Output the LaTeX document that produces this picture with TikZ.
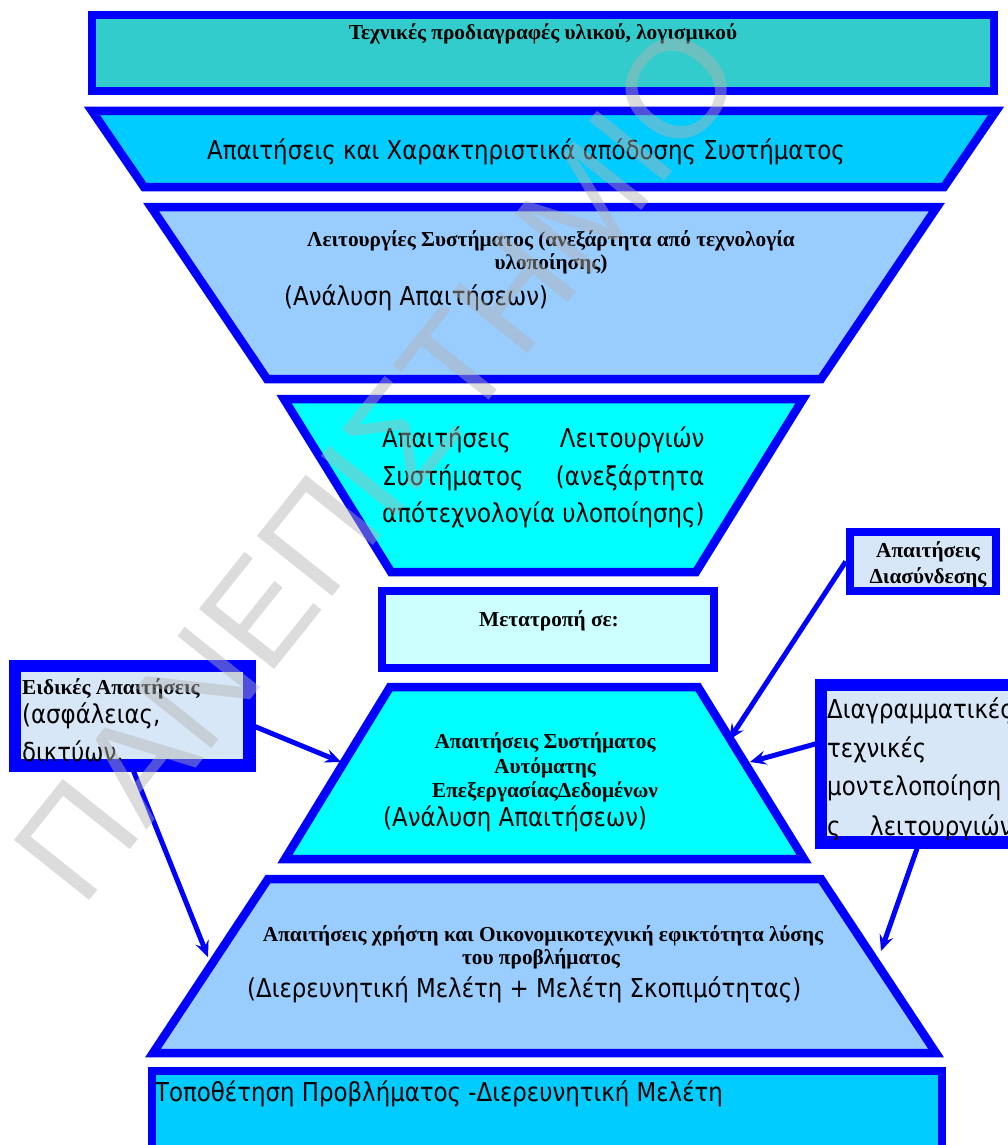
\documentclass[tikz,border=0pt]{standalone}
\usepackage{fontspec}
\setmainfont{Liberation Serif}
\newfontfamily\tahf{DejaVu Sans}[FakeStretch=0.88]
\newfontfamily\wmf{Liberation Sans}
\usetikzlibrary{arrows.meta}

\definecolor{bordblue}{RGB}{0,0,255}
\definecolor{fillA}{RGB}{51,204,204}
\definecolor{fillB}{RGB}{0,204,255}
\definecolor{fillC}{RGB}{153,204,255}
\definecolor{fillD}{RGB}{0,255,255}
\definecolor{fillE}{RGB}{204,255,255}
\definecolor{fillF}{RGB}{216,231,248}
\definecolor{wmgray}{RGB}{178,178,178}

\newlength\jwid

\begin{document}
\settowidth\jwid{\fontsize{26}{31}\selectfont\tahf απότεχνολογία υλοποίησης)}
\begin{tikzpicture}[x=1pt,y=-1pt,
  bord/.style={draw=bordblue, line width=8.5pt, line join=miter},
  rbox/.style={bord, rectangle, inner sep=0pt},
  sertxt/.style={font=\fontsize{21.3}{25}\selectfont\bfseries, inner sep=0pt, anchor=base},
  santxt/.style={font=\fontsize{26}{31}\selectfont\tahf, inner sep=0pt, anchor=base west},
  conn/.style={draw=bordblue, line width=5pt,
    -{Stealth[length=16pt,width=14pt,inset=6pt]}}]

\useasboundingbox (0,0) rectangle (1008,1145);
\fill[white] (0,0) rectangle (1008,1145);

% ---- stacked levels, top to bottom ----
\node[rbox, fill=fillA, minimum width=902pt, minimum height=76pt] (b1) at (543,53) {};
\node[sertxt] (x1) at (543,40) {Τεχνικές προδιαγραφές υλικού, λογισμικού};

\draw[bord, fill=fillB] (92,111) -- (996,111) -- (944,187) -- (144,187) -- cycle;
\node[santxt, anchor=base] (x2) at (526,159) {Απαιτήσεις και Χαρακτηριστικά απόδοσης Συστήματος};

\draw[bord, fill=fillC] (151,207) -- (937,207) -- (821,379) -- (267,379) -- cycle;
\node[sertxt] (x3a) at (551,246) {Λειτουργίες Συστήματος (ανεξάρτητα από τεχνολογία};
\node[sertxt] (x3b) at (551,269) {υλοποίησης)};
\node[santxt] (x3c) at (284,305) {(Ανάλυση Απαιτήσεων)};

\draw[bord, fill=fillD] (284,399) -- (803,399) -- (696,572) -- (391,572) -- cycle;
\node[santxt] (x4a) at (382,447) {\makebox[\jwid][s]{Απαιτήσεις Λειτουργιών}};
\node[santxt] (x4b) at (382,485) {\makebox[\jwid][s]{Συστήματος (ανεξάρτητα}};
\node[santxt] (x4c) at (382,522) {απότεχνολογία υλοποίησης)};

\node[rbox, fill=fillE, minimum width=332pt, minimum height=77pt] (b5) at (548,629.5) {};
\node[sertxt] (x5) at (549,626) {Μετατροπή σε:};

\draw[bord, fill=fillD] (390,687) -- (698,687) -- (804,859) -- (285,859) -- cycle;
\node[sertxt] (x6a) at (545,748) {Απαιτήσεις Συστήματος};
\node[sertxt] (x6b) at (545,773) {Αυτόματης};
\node[sertxt] (x6c) at (545,797) {ΕπεξεργασίαςΔεδομένων};
\node[santxt] (x6d) at (383,826) {(Ανάλυση Απαιτήσεων)};

\draw[bord, fill=fillC] (268,879) -- (821,879) -- (936,1053) -- (153,1053) -- cycle;
\node[sertxt] (x7a) at (543,941) {Απαιτήσεις χρήστη και Οικονομικοτεχνική εφικτότητα λύσης};
\node[sertxt] (x7b) at (541,964) {του προβλήματος};
\node[santxt] (x7c) at (247,997) {(Διερευνητική Μελέτη + Μελέτη Σκοπιμότητας)};

\node[rbox, fill=fillB, minimum width=790pt, minimum height=99pt] (b8) at (547,1120.5) {};
\node[santxt] (x8) at (155,1101) {Τοποθέτηση Προβλήματος -Διερευνητική Μελέτη};

% ---- side notes ----
\node[rbox, fill=fillF, minimum width=230pt, minimum height=95pt] (esp) at (132,715.5) {};
\node[sertxt, anchor=base west] (xe1) at (22,694) {Ειδικές Απαιτήσεις};
\node[santxt] (xe2) at (22,723) {(ασφάλειας,};
\node[santxt] (xe3) at (22,761) {δικτύων.};
\draw[bord] (esp.north west) rectangle (esp.south east);

\node[rbox, fill=fillF, minimum width=146pt, minimum height=59pt] (dias) at (923,561.5) {};
\node[sertxt] (xd1) at (928,557) {Απαιτήσεις};
\node[sertxt] (xd2) at (928,583) {Διασύνδεσης};

\node[rbox, fill=fillF, minimum width=207pt, minimum height=153pt] (diag) at (926.5,763.5) {};
\node[santxt] (xg1) at (827,718) {Διαγραμματικές};
\node[santxt] (xg2) at (827,757) {τεχνικές};
\node[santxt] (xg3) at (827,795) {μοντελοποίηση};
\node[santxt] (xg4) at (827,835) {ς};
\node[santxt] (xg5) at (870,835) {λειτουργιών};
\draw[bord] (diag.north west) rectangle (diag.south east);

% ---- arrow tips on the level outlines ----
\coordinate (t6l) at (341,762);
\coordinate (t6r1) at (729,740);
\coordinate (t6r2) at (750,762);
\coordinate (t7l) at (208,957);
\coordinate (t7r) at (881,951);

\draw[conn] ([yshift=-9.5pt]esp.east) -- (t6l);
\draw[conn] (esp.south) -- (t7l);
\draw[conn] (dias.west) -- (t6r1);
\draw[conn] ([yshift=20.5pt]diag.west) -- (t6r2);
\draw[conn] ([xshift=-8pt]diag.south) -- (t7r);

% ---- watermark ----
\node[rotate=51.4, inner sep=0pt, text=wmgray, text opacity=0.45,
  font=\fontsize{140}{140}\selectfont\wmf] (wm) at (378,463) {ΠΑΝΕΠΙΣΤΗΜΙΟ};

\end{tikzpicture}
\end{document}
